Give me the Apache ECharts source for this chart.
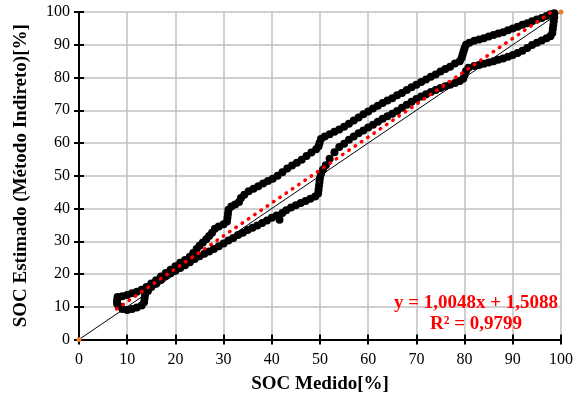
<!DOCTYPE html>
<html>
<head>
<meta charset="utf-8">
<script src="https://cdn.jsdelivr.net/npm/echarts@6/dist/echarts.min.js"></script>
<style>
  html, body { margin: 0; padding: 0; background: #ffffff; }
  #chart { width: 576px; height: 399px; }
</style>
</head>
<body>
<div id="chart"></div>
<script>
// Ramo superior (descarga): SOC medido vs. SOC estimado, de 100 % hacia 8 %
const descargaSOC = [98.6, 97.8, 97.0, 96.0, 95.0, 94.0, 93.0, 92.0, 91.0, 90.0, 89.0, 88.0, 87.0, 86.0, 85.0, 84.0, 83.0, 82.0, 81.0, 80.3,
  80.0, 79.8, 79.6, 79.4, 79.0, 78.0, 77.0, 76.0, 75.0, 74.0, 73.0, 72.0, 71.0, 70.0, 69.0, 68.0, 67.0, 66.0, 65.0, 64.0,
  63.0, 62.0, 61.0, 60.0, 59.0, 58.0, 57.0, 56.0, 55.0, 54.0, 53.0, 52.0, 51.0, 50.2, 49.9, 49.7, 49.2, 48.2, 47.2, 46.2,
  45.2, 44.2, 43.2, 42.2, 41.2, 40.2, 39.2, 38.2, 37.2, 36.2, 35.2, 34.3, 33.6, 33.2, 32.4, 31.6, 31.0, 30.9, 30.8, 30.7,
  30.0, 29.0, 28.2, 27.6, 27.0, 26.4, 25.7, 25.0, 24.4, 23.7, 23.0, 22.0, 21.0, 20.0, 19.0, 18.0, 17.0, 16.0, 15.0, 14.0,
  13.0, 12.0, 11.0, 10.0, 9.0, 8.0, 7.9, 7.9];
const descargaEst = [99.6, 99.3, 98.8, 98.2, 97.7, 97.2, 96.6, 96.1, 95.5, 95.0, 94.4, 93.8, 93.4, 93.0, 92.5, 92.0, 91.6, 91.2, 90.6, 90.0,
  89.0, 88.0, 87.0, 86.0, 85.0, 84.3, 83.3, 82.6, 81.8, 80.9, 80.2, 79.4, 78.6, 77.8, 77.0, 76.2, 75.3, 74.6, 73.7, 73.0,
  72.2, 71.4, 70.5, 69.6, 68.8, 67.8, 66.9, 65.9, 65.0, 64.1, 63.4, 62.7, 62.0, 61.2, 60.0, 59.0, 58.1, 57.1, 56.0, 54.9,
  54.0, 53.1, 52.2, 51.1, 50.0, 49.1, 48.4, 47.6, 46.8, 46.0, 45.3, 44.2, 43.2, 42.0, 41.2, 40.6, 39.6, 38.4, 37.2, 36.0,
  35.2, 34.5, 33.8, 32.6, 31.6, 30.6, 29.6, 28.6, 27.6, 26.4, 25.3, 24.3, 23.4, 22.4, 21.3, 20.3, 19.2, 18.1, 17.1, 16.0,
  15.2, 14.6, 14.1, 13.6, 13.2, 13.0, 12.0, 11.0];

// Ramo inferior (carga): de 8 % hacia 100 %
const cargaSOC = [8.2, 9.0, 10.0, 11.0, 12.0, 13.0, 13.5, 13.6, 13.7, 14.3, 15.0, 16.0, 17.0, 18.0, 19.0, 20.0, 21.0, 22.0, 23.0, 24.0,
  25.0, 26.0, 27.0, 28.0, 29.0, 30.0, 31.0, 32.0, 33.0, 34.0, 35.0, 36.0, 37.0, 38.0, 39.0, 40.0, 41.0, 41.6, 42.2, 43.0,
  44.0, 45.0, 46.0, 47.0, 48.0, 49.0, 49.6, 49.7, 49.8, 49.9, 50.0, 50.2, 50.6, 51.2, 52.0, 53.0, 54.0, 55.0, 56.0, 57.0,
  58.0, 59.0, 60.0, 61.0, 62.0, 63.0, 64.0, 65.0, 66.0, 67.0, 68.0, 69.0, 70.0, 71.0, 72.0, 73.0, 74.0, 75.0, 76.0, 77.0,
  78.0, 79.0, 79.7, 80.0, 80.3, 80.8, 82.0, 83.0, 84.0, 85.0, 86.0, 87.0, 88.0, 89.0, 90.0, 91.0, 92.0, 93.0, 94.0, 95.0,
  96.0, 97.0, 97.8, 98.2, 98.3, 98.4, 98.5, 98.6];
const cargaEst = [10.3, 9.3, 9.0, 9.3, 9.8, 10.4, 11.4, 12.5, 13.6, 14.8, 16.0, 17.0, 18.2, 19.4, 20.2, 21.0, 21.8, 22.7, 23.6, 24.6,
  25.4, 26.2, 26.9, 27.6, 28.5, 29.3, 30.2, 31.0, 31.9, 32.6, 33.4, 34.1, 34.8, 35.6, 36.3, 37.2, 37.9, 36.6, 38.6, 39.5,
  40.3, 41.0, 41.7, 42.3, 43.0, 43.7, 44.6, 45.8, 47.0, 48.2, 49.4, 50.6, 51.8, 53.2, 55.2, 57.2, 58.8, 59.8, 61.0, 62.0,
  63.0, 63.8, 64.7, 65.6, 66.5, 67.4, 68.2, 68.9, 69.8, 70.8, 71.7, 72.6, 73.4, 74.2, 74.9, 75.6, 76.2, 76.8, 77.3, 77.8,
  78.3, 78.9, 79.6, 80.8, 82.0, 83.0, 83.5, 83.8, 84.2, 84.6, 85.0, 85.4, 85.8, 86.3, 86.9, 87.5, 88.2, 89.0, 89.9, 90.6,
  91.3, 92.0, 92.6, 93.6, 94.8, 96.0, 97.2, 98.4];

// Recta ideal y = x
const idealSOC = [0, 100];
const idealEst = [0, 100];

// Ajuste lineal
const pendiente = 1.0048;
const intercepto = 1.5088;
const r2 = 0.9799;
const ajusteSOC = [7.8, 98.6];

// Ejes
const ejeMin = 0, ejeMax = 100, ejeIntervalo = 10;

const fmt = v => v.toFixed(4).replace('.', ',');
const fontSerif = '"Liberation Serif", "Times New Roman", serif';

const pares = (xs, ys) => xs.map((x, i) => [x, ys[i]]);
const ajusteData = ajusteSOC.map(x => [x, pendiente * x + intercepto]);

const chart = echarts.init(document.getElementById('chart'), null, { renderer: 'canvas' });

const baseX = {
  type: 'value', min: ejeMin, max: ejeMax, interval: ejeIntervalo, position: 'bottom',
  axisLine: { show: true, onZero: false, lineStyle: { color: '#000', width: 2 } }
};
const baseY = {
  type: 'value', min: ejeMin, max: ejeMax, interval: ejeIntervalo, position: 'left',
  axisLine: { show: true, onZero: false, lineStyle: { color: '#000', width: 2 } }
};

const puntos = { symbol: 'circle', symbolSize: 8, itemStyle: { color: '#000', opacity: 1 } };

chart.setOption({
  animation: false,
  backgroundColor: '#ffffff',
  grid: { left: 79, right: 14, top: 12, bottom: 59.5, containLabel: false },
  xAxis: [
    Object.assign({}, baseX, {
      name: 'SOC Medido[%]',
      nameLocation: 'middle',
      nameGap: 35,
      nameTextStyle: { fontFamily: fontSerif, fontWeight: 'bold', fontSize: 19, color: '#000' },
      axisTick: { show: true, inside: false, length: 5, lineStyle: { color: '#000', width: 2 } },
      axisLabel: { fontFamily: fontSerif, fontSize: 16, color: '#000', margin: 12 },
      splitLine: { show: true, lineStyle: { color: '#C0C0C0', width: 1.5 } }
    }),
    Object.assign({}, baseX, {
      axisTick: { show: true, inside: true, length: 5, lineStyle: { color: '#000', width: 2 } },
      axisLabel: { show: false },
      splitLine: { show: false }
    })
  ],
  yAxis: [
    Object.assign({}, baseY, {
      name: 'SOC Estimado (Método Indireto)[%]',
      nameLocation: 'middle',
      nameGap: 48,
      nameTextStyle: { fontFamily: fontSerif, fontWeight: 'bold', fontSize: 19, color: '#000' },
      axisTick: { show: true, inside: false, length: 5, lineStyle: { color: '#000', width: 2 } },
      axisLabel: { fontFamily: fontSerif, fontSize: 16, color: '#000', margin: 9 },
      splitLine: { show: true, lineStyle: { color: '#C0C0C0', width: 1.5 } }
    }),
    Object.assign({}, baseY, {
      axisTick: { show: true, inside: true, length: 5, lineStyle: { color: '#000', width: 2 } },
      axisLabel: { show: false },
      splitLine: { show: false }
    })
  ],
  series: [
    Object.assign({
      type: 'scatter', name: 'Descarga', xAxisIndex: 0, yAxisIndex: 0,
      data: pares(descargaSOC, descargaEst)
    }, puntos),
    Object.assign({
      type: 'scatter', name: 'Carga', xAxisIndex: 0, yAxisIndex: 0,
      data: pares(cargaSOC, cargaEst)
    }, puntos),
    {
      type: 'line', name: 'Ideal', xAxisIndex: 0, yAxisIndex: 0,
      data: pares(idealSOC, idealEst),
      symbol: 'circle', symbolSize: 5, showSymbol: true,
      itemStyle: { color: '#ED7D31', borderWidth: 0 },
      lineStyle: { color: '#000', width: 1 },
      z: 3
    },
    {
      type: 'line', name: 'Ajuste lineal', xAxisIndex: 0, yAxisIndex: 0,
      data: ajusteData,
      symbol: 'none',
      lineStyle: { color: '#FF0000', width: 3.5, type: [0.5, 7.1], cap: 'round' },
      z: 4
    }
  ],
  graphic: [
    {
      type: 'text',
      x: 476, y: 314,
      z: 10,
      style: {
        text: 'y = ' + fmt(pendiente) + 'x + ' + fmt(intercepto) + '\nR² = ' + fmt(r2),
        fontFamily: fontSerif, fontWeight: 'bold', fontSize: 19,
        fill: '#FF0000', align: 'center', verticalAlign: 'middle', lineHeight: 21
      }
    }
  ]
});
</script>
</body>
</html>
